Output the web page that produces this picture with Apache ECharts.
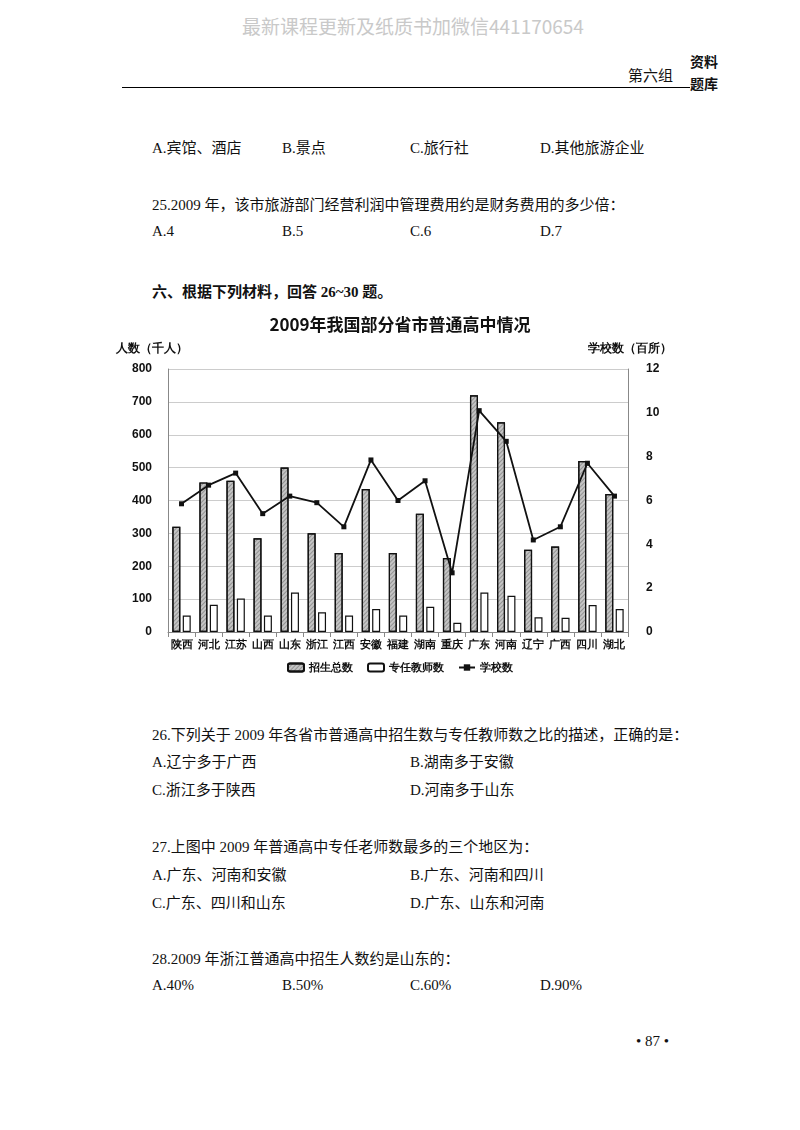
<!DOCTYPE html>
<html><head><meta charset="utf-8">
<script src="https://cdn.jsdelivr.net/npm/echarts@6/dist/echarts.min.js"></script>
<style>
body{margin:0;width:800px;height:1130px;background:#fff;position:relative;font-family:"Liberation Serif","Noto Sans CJK SC",serif;color:#111;}
.t{position:absolute;font-size:15px;white-space:nowrap;}
#chart{position:absolute;left:0;top:300px;width:800px;height:390px;}
</style></head><body>
<div class="t" style="left:242px;top:12px;font-size:19px;color:#c9c9c9;font-family:'Noto Sans CJK SC'">最新课程更新及纸质书加微信441170654</div>
<div class="t" style="left:628px;top:64px;font-size:15px;">第六组</div>
<div class="t" style="left:690px;top:52px;font-size:14px;font-weight:bold;line-height:22px;">资料<br>题库</div>
<div style="position:absolute;left:122px;top:87px;width:568px;border-top:1.5px solid #000"></div>
<div class="t" style="left:152px;top:136px;">A.宾馆、酒店</div>
<div class="t" style="left:282px;top:136px;">B.景点</div>
<div class="t" style="left:410px;top:136px;">C.旅行社</div>
<div class="t" style="left:540px;top:136px;">D.其他旅游企业</div>
<div class="t" style="left:152px;top:193px;">25.2009 年，该市旅游部门经营利润中管理费用约是财务费用的多少倍：</div>
<div class="t" style="left:152px;top:223px;">A.4</div>
<div class="t" style="left:282px;top:223px;">B.5</div>
<div class="t" style="left:410px;top:223px;">C.6</div>
<div class="t" style="left:540px;top:223px;">D.7</div>
<div class="t" style="left:152px;top:280px;font-weight:bold;">六、根据下列材料，回答 26~30 题。</div>
<div id="chart"></div>
<div class="t" style="left:152px;top:723px;">26.下列关于 2009 年各省市普通高中招生数与专任教师数之比的描述，正确的是：</div>
<div class="t" style="left:152px;top:750px;">A.辽宁多于广西</div>
<div class="t" style="left:410px;top:750px;">B.湖南多于安徽</div>
<div class="t" style="left:152px;top:778px;">C.浙江多于陕西</div>
<div class="t" style="left:410px;top:778px;">D.河南多于山东</div>
<div class="t" style="left:152px;top:835px;">27.上图中 2009 年普通高中专任老师数最多的三个地区为：</div>
<div class="t" style="left:152px;top:863px;">A.广东、河南和安徽</div>
<div class="t" style="left:410px;top:863px;">B.广东、河南和四川</div>
<div class="t" style="left:152px;top:891px;">C.广东、四川和山东</div>
<div class="t" style="left:410px;top:891px;">D.广东、山东和河南</div>
<div class="t" style="left:152px;top:947px;">28.2009 年浙江普通高中招生人数约是山东的：</div>
<div class="t" style="left:152px;top:977px;">A.40%</div>
<div class="t" style="left:282px;top:977px;">B.50%</div>
<div class="t" style="left:410px;top:977px;">C.60%</div>
<div class="t" style="left:540px;top:977px;">D.90%</div>
<div class="t" style="left:636px;top:1033px;">• 87 •</div>
<script>
const categories=['陕西','河北','江苏','山西','山东','浙江','江西','安徽','福建','湖南','重庆','广东','河南','辽宁','广西','四川','湖北'];
const enrollment=[320,455,460,285,500,300,240,435,240,360,225,720,638,250,260,520,420];
const teachers=[50,83,102,50,120,60,50,70,50,77,28,120,110,45,43,82,70];
const schools=[5.85,6.7,7.25,5.4,6.2,5.9,4.8,7.85,6.0,6.9,2.7,10.1,8.7,4.2,4.8,7.7,6.2];
const c=echarts.init(document.getElementById('chart'));
const lbl={color:'#111',fontWeight:'bold',fontSize:12,fontFamily:'Liberation Sans'};
c.setOption({
 animation:false,
 title:{text:'2009年我国部分省市普通高中情况',left:'center',top:11,textStyle:{fontSize:17,fontWeight:'bold',color:'#111',fontFamily:'Noto Sans CJK SC'}},
 grid:{left:168,right:172,top:69,height:263},
 legend:{bottom:12,left:'center',itemWidth:16,itemHeight:8,itemGap:14,textStyle:{fontSize:11,fontWeight:'bold',color:'#111'},
   data:['招生总数','专任教师数','学校数']},
 xAxis:{type:'category',data:categories,axisTick:{show:true,lineStyle:{color:'#888'}},axisLine:{lineStyle:{color:'#888'}},axisLabel:{color:'#111',fontWeight:'bold',fontSize:11,interval:0,margin:7}},
 yAxis:[
  {type:'value',min:0,max:800,interval:100,name:'人数（千人）',nameLocation:'end',nameGap:14,nameTextStyle:{align:'right',padding:[0,-20,0,0],fontWeight:'bold',fontSize:12,color:'#111'},
   axisLine:{show:true,lineStyle:{color:'#888'}},splitLine:{lineStyle:{color:'#ccc'}},axisLabel:Object.assign({margin:16},lbl)},
  {type:'value',min:0,max:12,interval:2,name:'学校数（百所）',nameGap:14,nameTextStyle:{align:'left',padding:[0,0,0,-40],fontWeight:'bold',fontSize:12,color:'#111'},
   axisLine:{show:true,lineStyle:{color:'#888'}},splitLine:{show:false},axisLabel:Object.assign({margin:18},lbl)}
 ],
 series:[
  {name:'招生总数',type:'bar',data:enrollment,barWidth:8,barGap:'30%',itemStyle:{color:'#c4c4c4',borderColor:'#111',borderWidth:1.2,decal:{symbol:'rect',dashArrayX:[1,0],dashArrayY:[1,2],rotation:-0.8,color:'rgba(0,0,0,0.25)'}}},
  {name:'专任教师数',type:'bar',data:teachers,barWidth:8,itemStyle:{color:'#fff',borderColor:'#111',borderWidth:1.2}},
  {name:'学校数',type:'line',yAxisIndex:1,data:schools,symbol:'rect',symbolSize:5,lineStyle:{color:'#111',width:1.8},itemStyle:{color:'#111'}}
 ]
});
</script>
</body></html>
